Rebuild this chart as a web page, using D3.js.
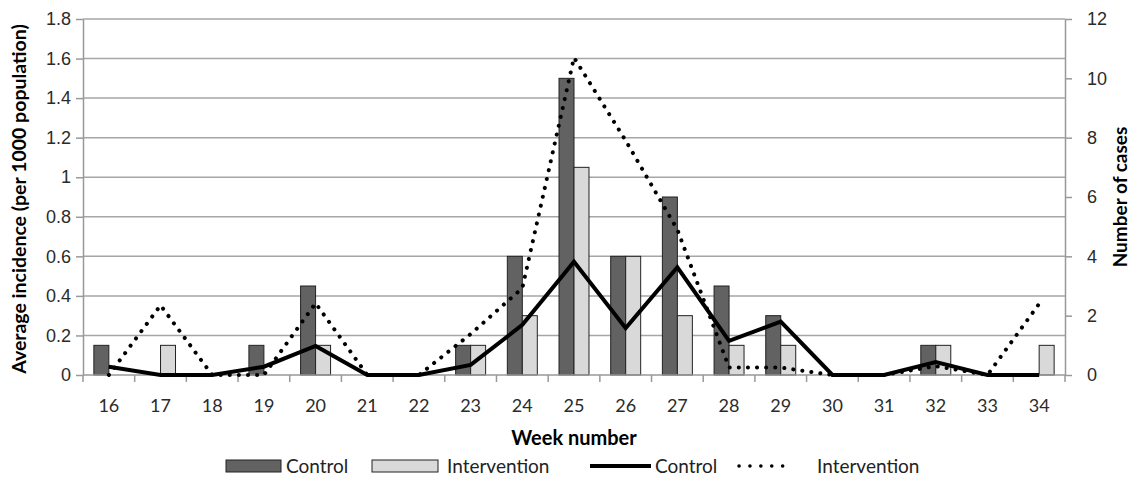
<!DOCTYPE html>
<html>
<head>
<meta charset="utf-8">
<script src="https://cdn.jsdelivr.net/npm/d3@7"></script>
<style>
  body { margin: 0; background: #fff; }
  svg { display: block; font-family: Lato, "Open Sans", sans-serif; }
</style>
</head>
<body>
<svg id="chart" width="1133" height="479"></svg>
<script>
// week categories
const weeks = [16,17,18,19,20,21,22,23,24,25,26,27,28,29,30,31,32,33,34];
// bars, average incidence per 1000 (left axis)
const controlIncidence =      [0.15,0,0,0.15,0.45,0,0,0.15,0.6,1.5,0.6,0.9,0.45,0.3,0,0,0.15,0,0];
const interventionIncidence = [0,0.15,0,0,0.15,0,0,0.15,0.3,1.05,0.6,0.3,0.15,0.15,0,0,0.15,0,0.15];
// lines, number of cases (right axis)
const controlCases =      [0.28,0,0,0.28,0.98,0,0,0.34,1.69,3.82,1.58,3.63,1.15,1.8,0,0,0.44,0,0];
const interventionCases = [0,2.35,0,0,2.42,0,0,1.38,2.93,10.7,7.9,4.9,0.25,0.25,0,0,0.3,0,2.4];
// tick labels
const leftTicks = [0,0.2,0.4,0.6,0.8,1,1.2,1.4,1.6,1.8];
const rightTicks = [0,2,4,6,8,10,12];

const svg = d3.select("#chart");
const m = {left: 83, right: 1065, top: 19, bottom: 375};

const x = d3.scaleBand().domain(weeks).range([m.left, m.right]);
const yL = d3.scaleLinear().domain([0, 1.8]).range([m.bottom, m.top]);
const yR = d3.scaleLinear().domain([0, 12]).range([m.bottom, m.top]);
const cx = w => x(w) + x.bandwidth() / 2;
const barW = x.bandwidth() * 0.29;

// gridlines
svg.append("g")
  .selectAll("line")
  .data(leftTicks.filter(d => d > 0))
  .join("line")
  .attr("x1", m.left).attr("x2", m.right)
  .attr("y1", d => yL(d)).attr("y2", d => yL(d))
  .attr("stroke", "#a6a6a6").attr("stroke-width", 1.5);

// bars
const bars = svg.append("g").attr("stroke", "#222").attr("stroke-width", 1);
bars.selectAll(".ctl")
  .data(weeks.map((w, i) => ({w, v: controlIncidence[i]})).filter(d => d.v > 0))
  .join("rect")
  .attr("x", d => cx(d.w) - barW)
  .attr("y", d => yL(d.v))
  .attr("width", barW)
  .attr("height", d => yL(0) - yL(d.v))
  .attr("fill", "#626262");
bars.selectAll(".int")
  .data(weeks.map((w, i) => ({w, v: interventionIncidence[i]})).filter(d => d.v > 0))
  .join("rect")
  .attr("x", d => cx(d.w))
  .attr("y", d => yL(d.v))
  .attr("width", barW)
  .attr("height", d => yL(0) - yL(d.v))
  .attr("fill", "#d9d9d9");

// axes
function styleAxis(g) {
  g.select(".domain").attr("stroke", "#999").attr("stroke-width", 1.5);
  g.selectAll(".tick line").attr("stroke", "#999").attr("stroke-width", 1.5);
  g.selectAll(".tick text").attr("fill", "#2b2b2b").attr("font-size", 18);
}
const fmt = d => String(+d.toFixed(1));

svg.append("g")
  .attr("transform", `translate(${m.left},0)`)
  .call(d3.axisLeft(yL).tickValues(leftTicks).tickFormat(fmt).tickSize(7).tickSizeOuter(0).tickPadding(5))
  .call(styleAxis);

svg.append("g")
  .attr("transform", `translate(${m.right},0)`)
  .call(d3.axisRight(yR).tickValues(rightTicks).tickSize(7).tickSizeOuter(0).tickPadding(15))
  .call(styleAxis);

// x axis with ticks between categories
const xg = svg.append("g").attr("transform", `translate(0,${m.bottom})`);
xg.append("line").attr("x1", m.left).attr("x2", m.right)
  .attr("stroke", "#999").attr("stroke-width", 1.5);
xg.selectAll(".tk")
  .data(weeks.map(w => x(w)).concat([m.right]))
  .join("line")
  .attr("x1", d => d).attr("x2", d => d)
  .attr("y1", 0).attr("y2", 7)
  .attr("stroke", "#999").attr("stroke-width", 1.5);
xg.selectAll("text")
  .data(weeks)
  .join("text")
  .attr("x", d => cx(d)).attr("y", 37)
  .attr("text-anchor", "middle")
  .attr("fill", "#2b2b2b").attr("font-size", 18)
  .text(d => d);

// lines
const line = d3.line().x(d => cx(d.w)).y(d => yR(d.v));
svg.append("path")
  .datum(weeks.map((w, i) => ({w, v: interventionCases[i]})))
  .attr("d", line)
  .attr("fill", "none").attr("stroke", "#000")
  .attr("stroke-width", 4).attr("stroke-linecap", "round")
  .attr("stroke-dasharray", "0.1 9");
svg.append("path")
  .datum(weeks.map((w, i) => ({w, v: controlCases[i]})))
  .attr("d", line)
  .attr("fill", "none").attr("stroke", "#000")
  .attr("stroke-width", 4).attr("stroke-linejoin", "miter");

// axis titles
svg.append("text")
  .attr("transform", `translate(26,${(m.top + m.bottom) / 2 + 2}) rotate(-90)`)
  .attr("text-anchor", "middle").attr("font-weight", "bold").attr("font-size", 19.5)
  .text("Average incidence (per 1000 population)");
svg.append("text")
  .attr("transform", `translate(1127,${(m.top + m.bottom) / 2}) rotate(-90)`)
  .attr("text-anchor", "middle").attr("font-weight", "bold").attr("font-size", 19)
  .text("Number of cases");
svg.append("text")
  .attr("x", (m.left + m.right) / 2).attr("y", 445)
  .attr("text-anchor", "middle").attr("font-weight", "bold").attr("font-size", 20)
  .text("Week number");

// legend
const lg = svg.append("g").attr("font-size", 19).attr("fill", "#222");
const ly = 466;
lg.append("rect").attr("x", 226).attr("y", ly - 6).attr("width", 55).attr("height", 12)
  .attr("fill", "#626262").attr("stroke", "#222");
lg.append("text").attr("x", 286).attr("y", ly + 7).text("Control");
lg.append("rect").attr("x", 372).attr("y", ly - 6).attr("width", 66).attr("height", 12)
  .attr("fill", "#d9d9d9").attr("stroke", "#222");
lg.append("text").attr("x", 447).attr("y", ly + 7).text("Intervention");
lg.append("line").attr("x1", 590).attr("x2", 651).attr("y1", ly).attr("y2", ly)
  .attr("stroke", "#000").attr("stroke-width", 4);
lg.append("text").attr("x", 655).attr("y", ly + 7).text("Control");
lg.append("line").attr("x1", 739).attr("x2", 793).attr("y1", ly).attr("y2", ly)
  .attr("stroke", "#000").attr("stroke-width", 3.5).attr("stroke-linecap", "round")
  .attr("stroke-dasharray", "0.1 10.8");
lg.append("text").attr("x", 817).attr("y", ly + 7).text("Intervention");
</script>
</body>
</html>
